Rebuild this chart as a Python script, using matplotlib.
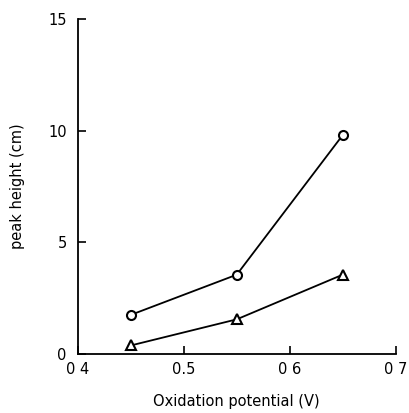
import matplotlib.pyplot as plt

# values
potential = [0.45, 0.55, 0.65]
peak_circle = [1.75, 3.55, 9.8]
peak_triangle = [0.38, 1.55, 3.55]

x_ticks = [0.4, 0.5, 0.6, 0.7]
x_tick_labels = ["0 4", "0.5", "0 6", "0 7"]
y_ticks = [0, 5, 10, 15]
y_tick_labels = ["0", "5", "10", "15"]

fig = plt.figure(figsize=(4.1, 4.13), dpi=100)
ax = fig.add_axes([0.19, 0.143, 0.775, 0.811])

ax.plot(potential, peak_circle, "-o", color="black", lw=1.3,
        markerfacecolor="white", markeredgewidth=1.5, markersize=6.5)
ax.plot(potential, peak_triangle, "-^", color="black", lw=1.3,
        markerfacecolor="white", markeredgewidth=1.5, markersize=6.5)

ax.set_xlim(0.4, 0.7)
ax.set_ylim(0, 15)
ax.set_xticks(x_ticks)
ax.set_xticklabels(x_tick_labels)
ax.set_yticks(y_ticks)
ax.set_yticklabels(y_tick_labels)

for side in ["top", "right"]:
    ax.spines[side].set_visible(False)
for side in ["left", "bottom"]:
    ax.spines[side].set_linewidth(1.3)

ax.tick_params(direction="in", length=6, width=1.2, labelsize=10.5)
ax.tick_params(axis="x", pad=6)
ax.tick_params(axis="y", pad=8)
ax.set_xlabel("Oxidation potential (V)", fontsize=10.5, labelpad=12)
ax.set_ylabel("peak height (cm)", fontsize=10.5, labelpad=17)

fig.savefig("out.png", dpi=100)
